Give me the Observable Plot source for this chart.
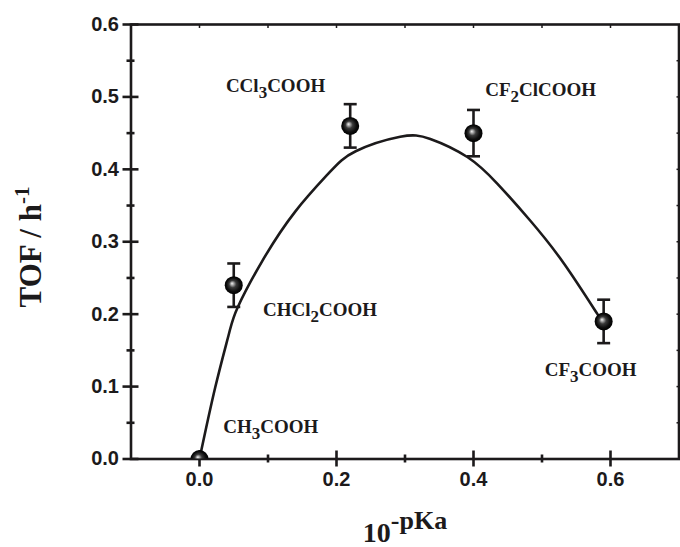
<!DOCTYPE html>
<html><head><meta charset="utf-8">
<script src="https://cdn.jsdelivr.net/npm/d3@7"></script>
<script src="https://cdn.jsdelivr.net/npm/@observablehq/plot@0.6"></script>
<style>body{margin:0;background:#fff} svg{display:block}</style>
</head><body><div id="chart"></div>
<script>
// ---- data ----
const acids   = ["CH3COOH", "CHCl2COOH", "CCl3COOH", "CF2ClCOOH", "CF3COOH"];
const acidity = [0, 0.05, 0.22, 0.40, 0.59];      // 10^-pKa
const tof     = [0, 0.24, 0.46, 0.45, 0.19];      // TOF / h^-1
const tofErr  = [0, 0.03, 0.03, 0.032, 0.03];
const labelX  = [0.104, 0.176, 0.111, 0.498, 0.571];
const labelY  = [0.044, 0.206, 0.515, 0.510, 0.123];
// fitted curve
const fitX = [0, 0.023, 0.043, 0.056, 0.092, 0.140, 0.189, 0.228, 0.293, 0.337, 0.391, 0.435, 0.483, 0.532, 0.581, 0.589];
const fitY = [0, 0.099, 0.173, 0.210, 0.274, 0.342, 0.395, 0.425, 0.445, 0.442, 0.417, 0.380, 0.329, 0.270, 0.200, 0.189];
// ticks
const majorX = [0, 0.2, 0.4, 0.6];
const minorX = [0.1, 0.3, 0.5];
const allX   = [0, 0.1, 0.2, 0.3, 0.4, 0.5, 0.6];
const majorY = [0, 0.1, 0.2, 0.3, 0.4, 0.5, 0.6];
const minorY = [0.05, 0.15, 0.25, 0.35, 0.45, 0.55];
const allY   = [0.05, 0.1, 0.15, 0.2, 0.25, 0.3, 0.35, 0.4, 0.45, 0.5, 0.55];

const data = acids.map((a, i) => ({acid: a, x: acidity[i], y: tof[i], err: tofErr[i],
  lo: tof[i] - tofErr[i], hi: tof[i] + tofErr[i], lx: labelX[i], ly: labelY[i]}));
const errData = data.filter(d => d.err > 0);
const fit = fitX.map((x, i) => ({x, y: fitY[i]}));

const cap = {draw(ctx, size) { const w = Math.sqrt(size / Math.PI); ctx.moveTo(-w, 0); ctx.lineTo(w, 0); }};
const fmt = d3.format(".1f");
const blank = () => "";
const SW = 2.6;
const INK = "#1c1a1b";
const TICKFONT = 20;

const chart = Plot.plot({
  width: 680, height: 547,
  marginLeft: 130.5, marginRight: 1.5, marginTop: 24, marginBottom: 88.5,
  x: {domain: [-0.1, 0.7]},
  y: {domain: [0, 0.6]},
  style: {fontFamily: "'Liberation Sans', Arial, sans-serif", fontWeight: "bold", fontSize: TICKFONT + "px", color: INK, background: "#fff"},
  marks: [
    // bottom axis: major ticks crossing, labels
    Plot.axisX({ticks: majorX, tickSize: 8, tickPadding: 5, tickFormat: fmt, label: null, strokeWidth: SW, fontSize: TICKFONT, fontWeight: "bold"}),
    Plot.axisX({ticks: majorX, tickSize: 8, dy: -8, tickFormat: blank, label: null, strokeWidth: SW}),
    Plot.axisX({ticks: minorX, tickSize: 4, tickFormat: blank, label: null, strokeWidth: SW}),
    Plot.axisX({ticks: minorX, tickSize: 4, dy: -4, tickFormat: blank, label: null, strokeWidth: SW}),
    // left axis
    Plot.axisY({ticks: majorY, tickSize: 8, tickPadding: 4, tickFormat: fmt, label: null, strokeWidth: SW, fontSize: TICKFONT, fontWeight: "bold"}),
    Plot.axisY({ticks: majorY, tickSize: 8, dx: 8, tickFormat: blank, label: null, strokeWidth: SW}),
    Plot.axisY({ticks: minorY, tickSize: 4, tickFormat: blank, label: null, strokeWidth: SW}),
    Plot.axisY({ticks: minorY, tickSize: 4, dx: 4, tickFormat: blank, label: null, strokeWidth: SW}),
    // top & right small inward ticks
    Plot.axisX({anchor: "top", ticks: allX, tickSize: 3, dy: 3, tickFormat: blank, label: null, strokeWidth: 1.5}),
    Plot.axisY({anchor: "right", ticks: allY, tickSize: 3, dx: -3, tickFormat: blank, label: null, strokeWidth: 1.5}),
    Plot.frame({stroke: INK, strokeWidth: SW}),
    // fitted curve
    Plot.line(fit, {x: "x", y: "y", curve: "natural", stroke: INK, strokeWidth: SW}),
    // error bars
    Plot.ruleX(errData, {x: "x", y1: "lo", y2: "hi", stroke: INK, strokeWidth: SW}),
    Plot.dot(errData, {x: "x", y: "lo", symbol: cap, r: 6.5, stroke: INK, strokeWidth: SW, fill: "none"}),
    Plot.dot(errData, {x: "x", y: "hi", symbol: cap, r: 6.5, stroke: INK, strokeWidth: SW, fill: "none"}),
    // spheres
    Plot.dot(data, {x: "x", y: "y", r: 9, fill: "url(#sphere)", stroke: "none", clip: true}),
    // compound labels
    Plot.text(data, {x: "lx", y: "ly", text: "acid", fontFamily: "'Liberation Serif', serif", fontWeight: "bold", fontSize: 19, fill: INK})
  ]
});

const svg = d3.select(chart);
const defs = svg.insert("defs", ":first-child");
const grad = defs.append("radialGradient").attr("id", "sphere")
  .attr("cx", "50%").attr("cy", "50%").attr("r", "50%").attr("fx", "40%").attr("fy", "40%");
[["0%", "#f2f2f2"], ["14%", "#b4b4b4"], ["40%", "#3a3a3a"], ["75%", "#0d0d0d"], ["100%", "#000"]]
  .forEach(([o, c]) => grad.append("stop").attr("offset", o).attr("stop-color", c));

// subscripts in compound labels
svg.selectAll("text").filter(function () { return acids.includes(this.textContent); }).each(function () {
  const t = d3.select(this);
  const s = t.text();
  t.text(null);
  let n = 0;
  s.split(/(\d)/).filter(p => p).forEach(p => {
    const ts = t.append("tspan").text(p);
    if (/\d/.test(p)) ts.attr("dy", 6).attr("font-size", 17);
    else if (n > 0) ts.attr("dy", -6);
    n++;
  });
});

// axis titles
const title = svg.append("g").attr("fill", INK).attr("font-family", "'Liberation Serif', serif").attr("font-weight", "bold");
const yt = title.append("text").attr("transform", "translate(41,247) rotate(-90)").attr("text-anchor", "middle").attr("font-size", 31);
yt.append("tspan").text("TOF / h");
yt.append("tspan").attr("dy", -12).attr("font-size", 21).text("-1");
const xt = title.append("text").attr("x", 405).attr("y", 542).attr("text-anchor", "middle").attr("font-size", 28);
xt.append("tspan").text("10");
xt.append("tspan").attr("dy", -13).attr("font-size", 26).text("-pKa");

document.getElementById("chart").appendChild(chart);
</script>
</body></html>
